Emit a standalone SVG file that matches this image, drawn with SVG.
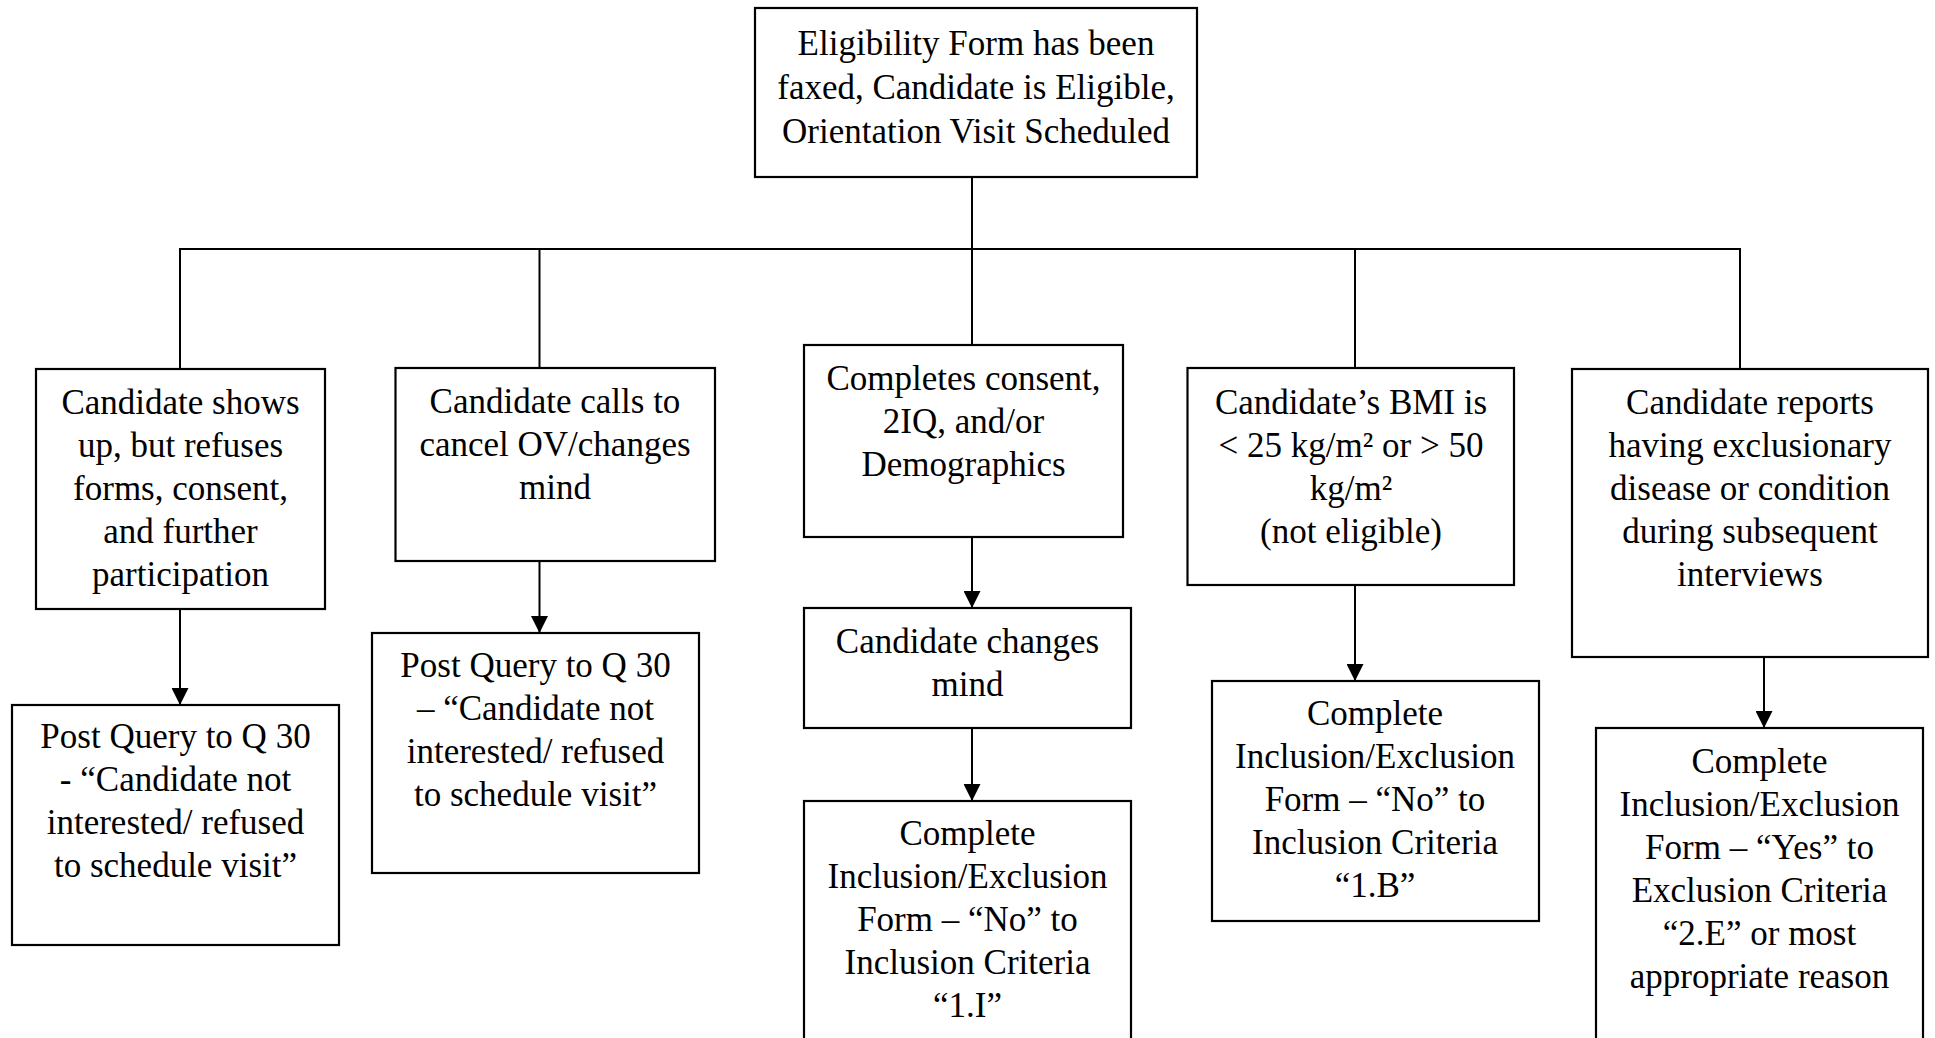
<svg xmlns="http://www.w3.org/2000/svg" width="1935" height="1038" viewBox="0 0 1935 1038">
<style>
.box{fill:#fff;stroke:#000;stroke-width:2.2}
.t{font-family:"Liberation Serif","Times New Roman",serif;font-size:35px;fill:#000;text-anchor:middle}
.ln{fill:none;stroke:#000;stroke-width:2}
</style>
<defs>
<marker id="ah" viewBox="0 0 17 17" refX="17" refY="8.5" markerWidth="17" markerHeight="17" markerUnits="userSpaceOnUse" orient="auto">
<path d="M0,0 L17,8.5 L0,17 Z" fill="#000"/>
</marker>
</defs>
<rect width="1935" height="1038" fill="#fff"/>
<g id="connectors">
<line class="ln" x1="972" y1="177" x2="972" y2="249"/>
<line class="ln" x1="179" y1="249" x2="1741" y2="249"/>
<line class="ln" x1="180" y1="249" x2="180" y2="369"/>
<line class="ln" x1="539.5" y1="249" x2="539.5" y2="368"/>
<line class="ln" x1="972" y1="249" x2="972" y2="345"/>
<line class="ln" x1="1355" y1="249" x2="1355" y2="368"/>
<line class="ln" x1="1740" y1="249" x2="1740" y2="369"/>
<path class="ln" d="M180,609 V705" marker-end="url(#ah)"/>
<path class="ln" d="M539.5,561 V633" marker-end="url(#ah)"/>
<path class="ln" d="M972,537 V608" marker-end="url(#ah)"/>
<path class="ln" d="M972,728 V801" marker-end="url(#ah)"/>
<path class="ln" d="M1355,585 V681" marker-end="url(#ah)"/>
<path class="ln" d="M1764,657 V728" marker-end="url(#ah)"/>
</g>
<g id="n0">
<rect class="box" x="755" y="8" width="442" height="169"/>
<text class="t" x="976" y="55">Eligibility Form has been</text>
<text class="t" x="976" y="99">faxed, Candidate is Eligible,</text>
<text class="t" x="976" y="143">Orientation Visit Scheduled</text>
</g>
<g id="n1">
<rect class="box" x="36" y="369" width="289" height="240"/>
<text class="t" x="180.5" y="414">Candidate shows</text>
<text class="t" x="180.5" y="457">up, but refuses</text>
<text class="t" x="180.5" y="500">forms, consent,</text>
<text class="t" x="180.5" y="543">and further</text>
<text class="t" x="180.5" y="586">participation</text>
</g>
<g id="n1b">
<rect class="box" x="12" y="705" width="327" height="240"/>
<text class="t" x="175.5" y="748">Post Query to Q 30</text>
<text class="t" x="175.5" y="791">- “Candidate not</text>
<text class="t" x="175.5" y="834">interested/ refused</text>
<text class="t" x="175.5" y="877">to schedule visit”</text>
</g>
<g id="n2">
<rect class="box" x="395.5" y="368" width="319.5" height="193"/>
<text class="t" x="555" y="413">Candidate calls to</text>
<text class="t" x="555" y="456">cancel OV/changes</text>
<text class="t" x="555" y="499">mind</text>
</g>
<g id="n2b">
<rect class="box" x="372" y="633" width="327" height="240"/>
<text class="t" x="535.5" y="677">Post Query to Q 30</text>
<text class="t" x="535.5" y="720">– “Candidate not</text>
<text class="t" x="535.5" y="763">interested/ refused</text>
<text class="t" x="535.5" y="806">to schedule visit”</text>
</g>
<g id="n3">
<rect class="box" x="804" y="345" width="319" height="192"/>
<text class="t" x="963.5" y="390">Completes consent,</text>
<text class="t" x="963.5" y="433">2IQ, and/or</text>
<text class="t" x="963.5" y="476">Demographics</text>
</g>
<g id="n3b">
<rect class="box" x="804" y="608" width="327" height="120"/>
<text class="t" x="967.5" y="653">Candidate changes</text>
<text class="t" x="967.5" y="696">mind</text>
</g>
<g id="n3c">
<rect class="box" x="804" y="801" width="327" height="250"/>
<text class="t" x="967.5" y="845">Complete</text>
<text class="t" x="967.5" y="888">Inclusion/Exclusion</text>
<text class="t" x="967.5" y="931">Form – “No” to</text>
<text class="t" x="967.5" y="974">Inclusion Criteria</text>
<text class="t" x="967.5" y="1017">“1.I”</text>
</g>
<g id="n4">
<rect class="box" x="1187.5" y="368" width="326.5" height="217"/>
<text class="t" x="1351" y="414">Candidate’s BMI is</text>
<text class="t" x="1351" y="457">&lt; 25 kg/m² or &gt; 50</text>
<text class="t" x="1351" y="500">kg/m²</text>
<text class="t" x="1351" y="543">(not eligible)</text>
</g>
<g id="n4b">
<rect class="box" x="1212" y="681" width="327" height="240"/>
<text class="t" x="1375" y="725">Complete</text>
<text class="t" x="1375" y="768">Inclusion/Exclusion</text>
<text class="t" x="1375" y="811">Form – “No” to</text>
<text class="t" x="1375" y="854">Inclusion Criteria</text>
<text class="t" x="1375" y="897">“1.B”</text>
</g>
<g id="n5">
<rect class="box" x="1572" y="369" width="356" height="288"/>
<text class="t" x="1750" y="414">Candidate reports</text>
<text class="t" x="1750" y="457">having exclusionary</text>
<text class="t" x="1750" y="500">disease or condition</text>
<text class="t" x="1750" y="543">during subsequent</text>
<text class="t" x="1750" y="586">interviews</text>
</g>
<g id="n5b">
<rect class="box" x="1596" y="728" width="327" height="330"/>
<text class="t" x="1759.5" y="773">Complete</text>
<text class="t" x="1759.5" y="816">Inclusion/Exclusion</text>
<text class="t" x="1759.5" y="859">Form – “Yes” to</text>
<text class="t" x="1759.5" y="902">Exclusion Criteria</text>
<text class="t" x="1759.5" y="945">“2.E” or most</text>
<text class="t" x="1759.5" y="988">appropriate reason</text>
</g>
</svg>
